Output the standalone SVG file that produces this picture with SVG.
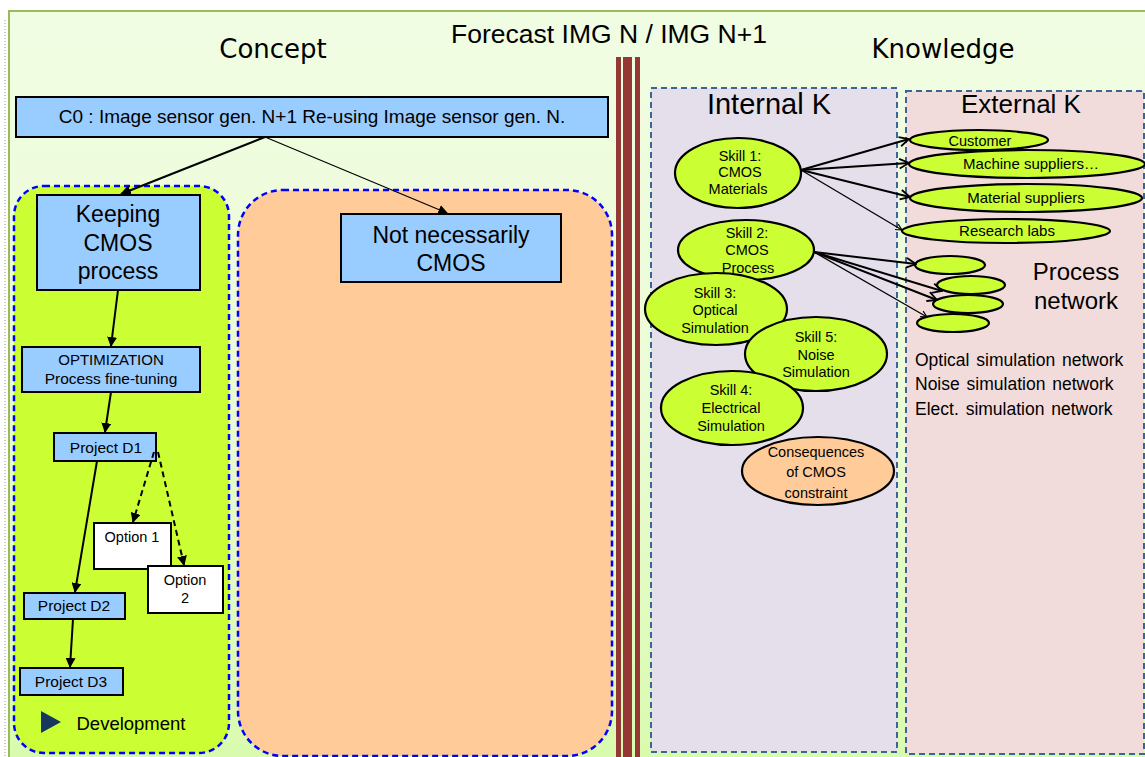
<svg xmlns="http://www.w3.org/2000/svg" width="1145" height="757" viewBox="0 0 1145 757">
<defs>
<linearGradient id="bg" x1="0" y1="0" x2="0" y2="1">
<stop offset="0" stop-color="#f1fde3"/>
<stop offset="0.5" stop-color="#ebfcd6"/>
<stop offset="1" stop-color="#d9fbae"/>
</linearGradient>
<marker id="tri" viewBox="0 0 10 10" refX="9" refY="5" markerWidth="5" markerHeight="5" orient="auto" markerUnits="strokeWidth">
<path d="M0,0 L10,5 L0,10 z" fill="#000"/>
</marker>
<marker id="tri2" viewBox="0 0 10 10" refX="9" refY="5" markerWidth="8" markerHeight="8" orient="auto" markerUnits="strokeWidth">
<path d="M0,0 L10,5 L0,10 z" fill="#000"/>
</marker>
<marker id="vee" viewBox="0 0 10 10" refX="9" refY="5" markerWidth="6" markerHeight="6" orient="auto" markerUnits="strokeWidth">
<path d="M1,1 L9,5 L1,9" fill="none" stroke="#000" stroke-width="1.5"/>
</marker>
</defs>
<style>
.t{font-family:"Liberation Sans",Arial,sans-serif;fill:#000;text-anchor:middle}
.v{font-family:"DejaVu Sans",Verdana,sans-serif;fill:#000;text-anchor:middle}
.box{fill:#99ccff;stroke:#000;stroke-width:2}
.wbox{fill:#fff;stroke:#000;stroke-width:2}
.ell{fill:#ccff33;stroke:#000;stroke-width:2.2}
.kbox{stroke:#3a6596;stroke-width:2;stroke-dasharray:6,4}
.grp{stroke:#0000ff;stroke-width:2.5;stroke-dasharray:6,4}
.c{fill:none;stroke:#000}
</style>
<rect x="0" y="0" width="1145" height="757" fill="#fff"/>
<line x1="5" y1="20" x2="5" y2="757" stroke="#999" stroke-width="1" stroke-dasharray="1,2"/>
<rect x="9" y="11" width="1140" height="750" fill="url(#bg)" stroke="#9bbb59" stroke-width="2"/>

<g id="titles">
<text class="v" x="273" y="58" font-size="26">Concept</text>
<text class="t" x="609" y="43" font-size="26.5">Forecast IMG N / IMG N+1</text>
<text class="v" x="943" y="58" font-size="26">Knowledge</text>
</g>

<g id="separator" fill="#953735">
<rect x="616" y="57" width="5" height="700"/>
<rect x="623" y="57" width="9" height="700"/>
<rect x="635" y="57" width="5" height="700"/>
</g>

<g id="development-group">
<rect x="14" y="186" width="215" height="567" rx="30" ry="30" fill="#ccff33" class="grp"/>
<path d="M41,711 L61,722 L41,733 z" fill="#17375e"/>
<text class="t" x="131" y="730" font-size="18.5">Development</text>
</g>
<g id="not-cmos-group">
<rect x="238" y="190" width="374" height="566" rx="45" ry="45" fill="#ffcc99" class="grp"/>
</g>

<g id="internal-k">
<rect x="651" y="88" width="246" height="664" fill="#e5dfec" class="kbox"/>
<text class="t" x="769" y="114" font-size="29">Internal K</text>
</g>
<g id="external-k">
<rect x="906" y="91" width="238" height="663" fill="#f2dcdb" class="kbox"/>
<text class="t" x="1021" y="113" font-size="26">External K</text>
<text class="t" x="1076" y="280" font-size="24">Process</text>
<text class="t" x="1076" y="309" font-size="24">network</text>
<g class="t" style="text-anchor:start;word-spacing:2px" font-size="17.5">
<text x="915" y="366">Optical simulation network</text>
<text x="915" y="390">Noise simulation network</text>
<text x="915" y="415">Elect. simulation network</text>
</g>
</g>

<g id="c0">
<rect x="16" y="97" width="592" height="40" class="box"/>
<text class="t" x="312" y="123" font-size="19">C0 : Image sensor gen. N+1 Re-using Image sensor gen. N.</text>
</g>
<g id="keeping-cmos">
<rect x="37" y="195" width="163" height="95" class="box"/>
<text class="t" x="118" y="222" font-size="23">Keeping</text>
<text class="t" x="118" y="251" font-size="23">CMOS</text>
<text class="t" x="118" y="279" font-size="23">process</text>
</g>
<g id="not-cmos">
<rect x="341" y="214" width="220" height="68" class="box"/>
<text class="t" x="451" y="243" font-size="23">Not necessarily</text>
<text class="t" x="451" y="271" font-size="23">CMOS</text>
</g>
<g id="optimization">
<rect x="22" y="347" width="178" height="45" class="box"/>
<text class="t" x="111" y="365" font-size="15">OPTIMIZATION</text>
<text class="t" x="111" y="384" font-size="15.5">Process fine-tuning</text>
</g>
<g id="project-d1">
<rect x="54" y="433" width="102" height="28" class="box"/>
<text class="t" x="106" y="453" font-size="15.5">Project D1</text>
</g>
<g id="option-1">
<rect x="94" y="523" width="77" height="46" class="wbox"/>
<text class="t" x="132" y="542" font-size="14.5">Option 1</text>
</g>
<g id="option-2">
<rect x="148" y="566" width="75" height="47" class="wbox"/>
<text class="t" x="185" y="585" font-size="14.5">Option</text>
<text class="t" x="185" y="603" font-size="14.5">2</text>
</g>
<g id="project-d2">
<rect x="24" y="593" width="101" height="26" class="box"/>
<text class="t" x="74" y="611" font-size="15.5">Project D2</text>
</g>
<g id="project-d3">
<rect x="20" y="668" width="103" height="27" class="box"/>
<text class="t" x="71" y="687" font-size="15.5">Project D3</text>
</g>

<g id="skill-1">
<ellipse cx="738" cy="173" rx="63" ry="35" class="ell"/>
<text class="t" x="740" y="161" font-size="14.5">Skill 1:</text>
<text class="t" x="740" y="177" font-size="14.5">CMOS</text>
<text class="t" x="738" y="194" font-size="14.5">Materials</text>
</g>
<g id="skill-2">
<ellipse cx="746" cy="250" rx="68" ry="30" class="ell"/>
<text class="t" x="747" y="238" font-size="14.5">Skill 2:</text>
<text class="t" x="747" y="255" font-size="14.5">CMOS</text>
<text class="t" x="748" y="273" font-size="14.5">Process</text>
</g>
<g id="skill-3">
<ellipse cx="716" cy="309" rx="71" ry="36" class="ell"/>
<text class="t" x="715" y="298" font-size="14.5">Skill 3:</text>
<text class="t" x="715" y="315" font-size="14.5">Optical</text>
<text class="t" x="715" y="333" font-size="14.5">Simulation</text>
</g>
<g id="skill-5">
<ellipse cx="816" cy="354" rx="71" ry="37" class="ell"/>
<text class="t" x="816" y="342" font-size="14.5">Skill 5:</text>
<text class="t" x="816" y="360" font-size="14.5">Noise</text>
<text class="t" x="816" y="377" font-size="14.5">Simulation</text>
</g>
<g id="skill-4">
<ellipse cx="732" cy="408" rx="71" ry="37" class="ell"/>
<text class="t" x="731" y="395" font-size="14.5">Skill 4:</text>
<text class="t" x="731" y="413" font-size="14.5">Electrical</text>
<text class="t" x="731" y="431" font-size="14.5">Simulation</text>
</g>
<g id="consequences">
<ellipse cx="818" cy="471" rx="76" ry="34" fill="#ffcc99" stroke="#000" stroke-width="2.2"/>
<text class="t" x="816" y="457" font-size="14.5">Consequences</text>
<text class="t" x="816" y="477" font-size="14.5">of CMOS</text>
<text class="t" x="816" y="498" font-size="14.5">constraint</text>
</g>

<g id="customer">
<ellipse cx="979" cy="140" rx="69" ry="10" class="ell"/>
<text class="t" x="980" y="146" font-size="14.5">Customer</text>
</g>
<g id="machine-suppliers">
<ellipse cx="1027" cy="164" rx="118" ry="14" class="ell"/>
<text class="t" x="1031" y="169" font-size="15">Machine suppliers…</text>
</g>
<g id="material-suppliers">
<ellipse cx="1026" cy="198" rx="116" ry="14" class="ell"/>
<text class="t" x="1026" y="203" font-size="15">Material suppliers</text>
</g>
<g id="research-labs">
<ellipse cx="1006" cy="231" rx="104" ry="12" class="ell"/>
<text class="t" x="1007" y="236" font-size="15">Research labs</text>
</g>
<g id="process-node-1"><ellipse cx="950" cy="265" rx="35" ry="9" class="ell"/></g>
<g id="process-node-2"><ellipse cx="971" cy="285" rx="34" ry="9" class="ell"/></g>
<g id="process-node-3"><ellipse cx="968" cy="304" rx="35" ry="9" class="ell"/></g>
<g id="process-node-4"><ellipse cx="953" cy="323" rx="36" ry="9" class="ell"/></g>

<g id="connectors">
<line class="c" x1="265" y1="137" x2="121" y2="194" stroke-width="2.2" marker-end="url(#tri)"/>
<line class="c" x1="265" y1="137" x2="447" y2="213" stroke-width="1.2" marker-end="url(#tri2)"/>
<line class="c" x1="118" y1="290" x2="111" y2="346" stroke-width="2" marker-end="url(#tri)"/>
<line class="c" x1="111" y1="392" x2="105" y2="432" stroke-width="2" marker-end="url(#tri)"/>
<line class="c" x1="97" y1="461" x2="75" y2="592" stroke-width="2" marker-end="url(#tri)"/>
<line class="c" x1="73" y1="619" x2="70" y2="667" stroke-width="2" marker-end="url(#tri)"/>
<line class="c" x1="154" y1="452" x2="133" y2="522" stroke-width="2" stroke-dasharray="6,4" marker-end="url(#tri)"/>
<line class="c" x1="158" y1="452" x2="184" y2="565" stroke-width="2" stroke-dasharray="6,4" marker-end="url(#tri)"/>
<line class="c" x1="801" y1="170" x2="909" y2="139" stroke-width="2" marker-end="url(#vee)"/>
<line class="c" x1="801" y1="170" x2="909" y2="163" stroke-width="2" marker-end="url(#vee)"/>
<line class="c" x1="801" y1="170" x2="910" y2="197" stroke-width="2" marker-end="url(#vee)"/>
<line class="c" x1="801" y1="170" x2="902" y2="230" stroke-width="1.3" marker-end="url(#vee)"/>
<line class="c" x1="814" y1="252" x2="916" y2="264" stroke-width="2" marker-end="url(#vee)"/>
<line class="c" x1="814" y1="252" x2="942" y2="291" stroke-width="2" marker-end="url(#vee)"/>
<line class="c" x1="814" y1="252" x2="937" y2="300" stroke-width="2" marker-end="url(#vee)"/>
<line class="c" x1="814" y1="252" x2="927" y2="317" stroke-width="1.3" marker-end="url(#vee)"/>
</g>
</svg>
